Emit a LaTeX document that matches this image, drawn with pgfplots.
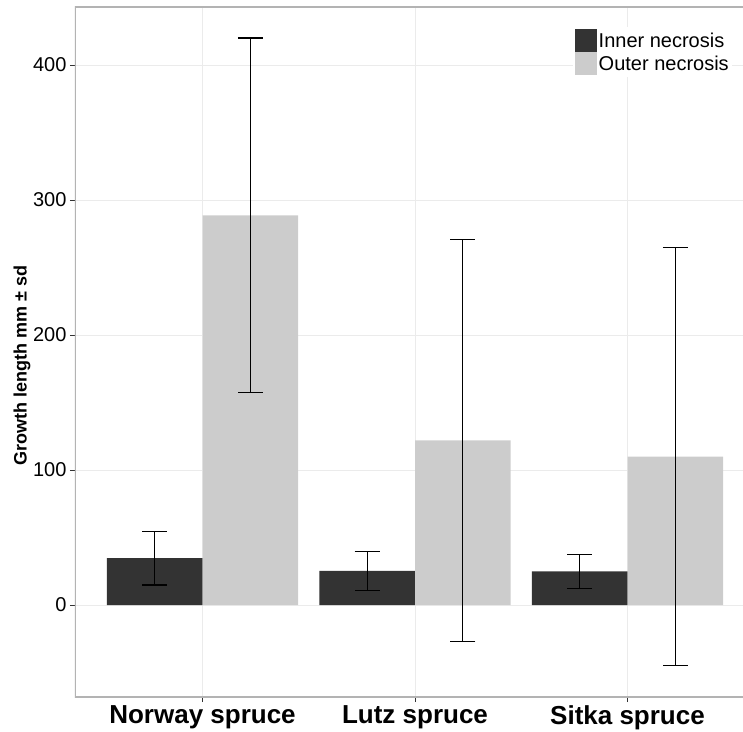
\documentclass[border=0pt]{standalone}
\usepackage{pgfplots}
\pgfplotsset{compat=1.18}
\usepackage{fontspec}
\setmainfont{Liberation Sans}
\definecolor{innerc}{HTML}{333333}
\definecolor{outerc}{HTML}{CCCCCC}
\definecolor{bordc}{HTML}{B3B3B3}
\definecolor{gridc}{HTML}{EBEBEB}
\begin{document}
\begin{tikzpicture}
\useasboundingbox (-75pt,-34pt) rectangle (668pt,697pt);
\begin{axis}[
  at={(0pt,0pt)}, anchor=south west,
  scale only axis, width=668pt, height=690pt,
  xmin=0.4, xmax=3.5435, ymin=-68.1, ymax=443,
  ybar=0pt, bar width=95.6pt,
  xtick={1,2,3}, xticklabels={Norway spruce, Lutz spruce, Sitka spruce},
  ytick={0,100,200,300,400},
  tick pos=left, tick align=outside, major tick length=5pt,
  tick style={color=innerc, line width=1pt},
  axis line style={draw=none},
  grid=major, major grid style={color=gridc, line width=0.8pt},
  xticklabel style={font=\fontsize{26}{30}\selectfont\bfseries, text=black},
  yticklabel style={font=\fontsize{20}{24}\selectfont, text=black},
  /pgf/number format/assume math mode=true,
  ylabel={Growth length mm ± sd},
  ylabel style={font=\fontsize{18}{21}\selectfont\bfseries, at={(axis description cs:-0.0793,0.48)}, anchor=center},
  legend style={at={(axis description cs:0.7455,0.971)}, anchor=north west, draw=none, fill=white,
    font=\fontsize{20}{22}\selectfont, row sep=0pt, inner sep=2pt, nodes={inner sep=1.5pt}, cells={anchor=west}},
  legbox/.style={legend image code/.code={\fill[##1] (0pt,-11.5pt) rectangle (22pt,11.5pt);}},
  error bars/error bar style={color=black, line width=1.2pt},
  error bars/error mark options={rotate=90, mark size=12.5pt, line width=1.2pt, color=black},
]
\addplot[fill=innerc, draw=none, legbox, error bars/.cd, y dir=both, y explicit]
  coordinates {(1,34.7) +- (0,19.9) (2,25.4) +- (0,14.5) (3,24.9) +- (0,12.8)};
\addplot[fill=outerc, draw=none, legbox, error bars/.cd, y dir=both, y explicit]
  coordinates {(1,288.6) +- (0,131.4) (2,122) +- (0,149) (3,110) +- (0,155)};
\legend{Inner necrosis, Outer necrosis}
\draw[bordc, line width=1.5pt] (rel axis cs:1,1) -- (rel axis cs:0,1) -- (rel axis cs:0,0) -- (rel axis cs:1,0);
\end{axis}
\end{tikzpicture}
\end{document}
